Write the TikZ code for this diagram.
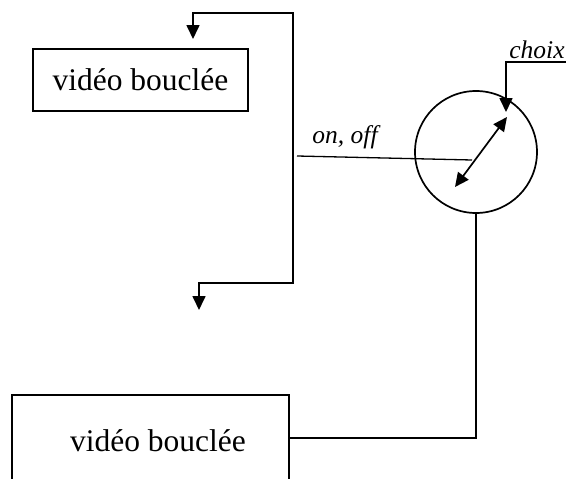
\documentclass[tikz,border=0pt]{standalone}
\usepackage{fontspec}
\setmainfont{Liberation Serif}
\usetikzlibrary{arrows.meta}
\begin{document}
\begin{tikzpicture}[x=1pt,y=-1pt,
  line width=1.7pt,
  arr/.style={-{Triangle[length=14pt,width=13pt]}},
  darr/.style={{Triangle[length=14pt,width=13pt]}-{Triangle[length=14pt,width=13pt]}},
  boxtext/.style={font=\fontsize{31.5}{34}\selectfont},
  lab/.style={font=\fontsize{25.5}{28}\selectfont\itshape, inner sep=0pt}]
\useasboundingbox (0,0) rectangle (566,479);
% boxes
\node[draw, minimum width=215pt, minimum height=62pt, boxtext, inner sep=0pt] (b1) at (140.5,80) {vidéo bouclée};
\node[draw, minimum width=277pt, minimum height=86pt, inner sep=0pt] (b2) at (150.5,438) {};
\node[boxtext, inner sep=0pt] (t2) at (158,441) {vidéo bouclée};
% switch circle
\node[draw, circle, minimum size=122pt, inner sep=0pt] (c) at (476,152) {};
% loop with two outputs
\coordinate (v) at (293,150);
\coordinate (ta) at (193,39);
\coordinate (ba) at (199,310);
\draw[arr] (v) -- (293,13) -| (ta);
\draw[arr] (v) -- (293,283) -| (ba);
% on/off line
\coordinate (on) at (297,156);
\coordinate (sw) at (472,160);
\draw[line width=1.3pt] (on) -- (sw);
\node[lab, anchor=base] (onoff) at (345,143) {on, off};
% double arrow in circle
\coordinate (d1) at (455,187);
\coordinate (d2) at (507,117);
\draw[darr] (d1) -- (d2);
% choix
\coordinate (ch) at (566,62);
\coordinate (chtip) at (506,112);
\draw[arr] (ch) -| (chtip);
\node[lab, anchor=base] (choix) at (537,58) {choix};
% bottom connection
\draw (c.south) |- (b2.east);
\end{tikzpicture}
\end{document}
